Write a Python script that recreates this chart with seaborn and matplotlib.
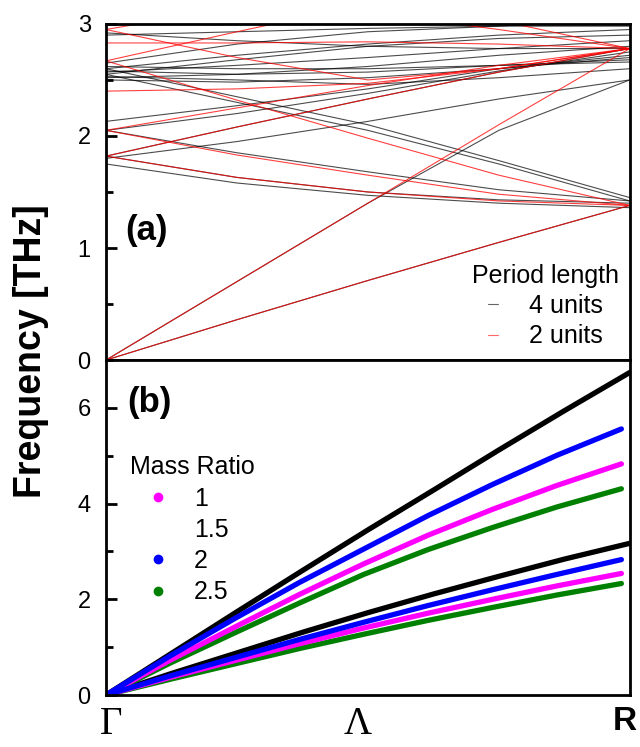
import numpy as np
import pandas as pd
import seaborn as sns
import matplotlib
matplotlib.use("Agg")
import matplotlib.pyplot as plt
from matplotlib.lines import Line2D
from matplotlib.ticker import MultipleLocator
from matplotlib.transforms import ScaledTranslation

# ---------------- (a) folded dispersion: frequency [THz] along Γ -> R ----------------
k_path = [0.0, 0.25, 0.5, 0.75, 1.0]

bands_4units = [
    [0.00, 0.70, 1.40, 2.05, 2.50],
    [0.00, 0.36, 0.71, 1.05, 1.38],
    [1.75, 1.58, 1.47, 1.40, 1.36],
    [1.82, 1.63, 1.50, 1.43, 1.40],
    [1.80, 1.95, 2.13, 2.33, 2.50],
    [1.82, 2.08, 2.33, 2.57, 2.78],
    [2.05, 1.85, 1.68, 1.52, 1.42],
    [2.05, 2.20, 2.38, 2.58, 2.75],
    [2.13, 2.27, 2.42, 2.60, 2.72],
    [2.55, 2.30, 2.05, 1.75, 1.42],
    [2.60, 2.35, 2.10, 1.78, 1.45],
    [2.50, 2.48, 2.52, 2.60, 2.70],
    [2.52, 2.55, 2.62, 2.72, 2.80],
    [2.57, 2.63, 2.70, 2.78, 2.85],
    [2.60, 2.72, 2.82, 2.90, 2.95],
    [2.65, 2.82, 2.93, 2.98, 3.05],
    [2.90, 2.93, 2.96, 2.98, 2.98],
    [2.58, 2.55, 2.57, 2.63, 2.68],
    [2.62, 2.60, 2.60, 2.63, 2.66],
    [2.55, 2.68, 2.80, 2.87, 2.90],
    [2.92, 2.85, 2.80, 2.78, 2.78],
    [2.53, 2.50, 2.46, 2.52, 2.60],
]

bands_2units = [
    [0.00, 0.70, 1.40, 2.10, 2.78],
    [0.00, 0.36, 0.71, 1.05, 1.38],
    [1.82, 1.63, 1.50, 1.42, 1.38],
    [1.82, 2.08, 2.33, 2.57, 2.78],
    [2.05, 1.83, 1.65, 1.48, 1.38],
    [2.05, 2.25, 2.45, 2.63, 2.78],
    [2.67, 2.32, 1.98, 1.65, 1.38],
    [2.67, 2.93, 3.18, 3.40, 3.60],
    [2.95, 2.70, 2.50, 2.60, 2.78],
    [2.95, 3.15, 3.35, 3.50, 3.60],
    [3.60, 3.45, 3.30, 3.03, 2.78],
    [3.40, 3.25, 3.10, 2.95, 2.78],
    [2.40, 2.42, 2.47, 2.60, 2.78],
    [2.83, 2.83, 2.84, 2.82, 2.78],
]

# ---------------- (b) acoustic branches for different mass ratios ----------------
mass_ratios = ["1", "1.5", "2", "2.5"]
k_black = [0.0, 0.125, 0.25, 0.375, 0.5, 0.625, 0.75, 0.875, 1.0]
k_color = [0.0, 0.123, 0.246, 0.369, 0.492, 0.615, 0.738, 0.861, 0.984]

upper_r1 = [0.0, 0.73, 1.42, 2.10, 2.74, 3.34, 3.88, 4.38, 4.83]
lower_r1 = [0.0, 0.37, 0.72, 1.07, 1.40, 1.71, 2.00, 2.28, 2.54]
upper_r15 = [0.0, 0.87, 1.74, 2.60, 3.45, 4.28, 5.12, 5.94, 6.74]
lower_r15 = [0.0, 0.45, 0.88, 1.31, 1.72, 2.11, 2.48, 2.84, 3.17]
upper_r2 = [0.0, 0.82, 1.60, 2.35, 3.05, 3.75, 4.40, 5.01, 5.56]
lower_r2 = [0.0, 0.40, 0.78, 1.16, 1.52, 1.87, 2.20, 2.52, 2.83]
upper_r25 = [0.0, 0.67, 1.30, 1.92, 2.52, 3.04, 3.50, 3.93, 4.31]
lower_r25 = [0.0, 0.33, 0.65, 0.97, 1.27, 1.56, 1.83, 2.09, 2.33]

ratio_colors = {"1": "#ff00ff", "1.5": "#000000", "2": "#0000ff", "2.5": "#008000"}

sns.set_theme(style="ticks")
plt.rcParams["font.family"] = ["Liberation Sans", "DejaVu Sans"]
plt.rcParams.update({"text.color": "black", "axes.labelcolor": "black",
                     "xtick.color": "black", "ytick.color": "black"})

fig = plt.figure(figsize=(6.4, 7.47), dpi=100)
ax_a = fig.add_axes([0.1656, 0.518, 0.8184, 0.450])
ax_b = fig.add_axes([0.1656, 0.0696, 0.8184, 0.4484], sharex=ax_a)

# long-form tables for seaborn
rows = []
for i, b in enumerate(bands_4units):
    for k, f in zip(k_path, b):
        rows.append(("4 units", f"p4_{i}", k, f))
for i, b in enumerate(bands_2units):
    for k, f in zip(k_path, b):
        rows.append(("2 units", f"p2_{i}", k, f))
df_a = pd.DataFrame(rows, columns=["period", "band", "k", "freq"])

sns.lineplot(data=df_a[df_a.period == "4 units"], x="k", y="freq", units="band",
             estimator=None, color="black", lw=0.8, alpha=0.7, ax=ax_a, legend=False)
sns.lineplot(data=df_a[df_a.period == "2 units"], x="k", y="freq", units="band",
             estimator=None, color="#ff0000", lw=0.8, alpha=0.75, ax=ax_a, legend=False)

rows = []
branches = {
    "1": (k_color, upper_r1, lower_r1),
    "1.5": (k_black, upper_r15, lower_r15),
    "2": (k_color, upper_r2, lower_r2),
    "2.5": (k_color, upper_r25, lower_r25),
}
for r, (ks, up, lo) in branches.items():
    for k, f in zip(ks, up):
        rows.append((r, r + "_up", k, f))
    for k, f in zip(ks, lo):
        rows.append((r, r + "_lo", k, f))
df_b = pd.DataFrame(rows, columns=["ratio", "branch", "k", "freq"])

for r in ["1.5", "2.5", "1", "2"]:
    sns.lineplot(data=df_b[df_b.ratio == r], x="k", y="freq", units="branch",
                 estimator=None, color=ratio_colors[r], lw=3.8, ax=ax_b,
                 legend=False, solid_capstyle="round")

# axes styling
for ax in (ax_a, ax_b):
    for s in ax.spines.values():
        s.set_linewidth(2.0)
        s.set_color("black")
    ax.set_xlim(0, 1)
    ax.set_xlabel("")
    ax.set_ylabel("")
    ax.tick_params(axis="y", which="major", direction="in", length=8, width=2,
                   labelsize=17, pad=11, colors="black")
    ax.tick_params(axis="y", which="minor", direction="in", length=5, width=2,
                   colors="black")
    ax.tick_params(axis="x", length=0, colors="black")

ax_a.set_ylim(0, 3)
ax_a.yaxis.set_major_locator(MultipleLocator(1))
ax_a.yaxis.set_minor_locator(MultipleLocator(0.5))
ax_a.tick_params(axis="x", labelbottom=False)

ax_b.set_ylim(0, 7)
ax_b.yaxis.set_major_locator(MultipleLocator(2))
ax_b.yaxis.set_minor_locator(MultipleLocator(1))
ax_b.set_yticks([0, 2, 4, 6])

ax_b.set_xticks([0, 0.5, 1])
ax_b.set_xticklabels(["Γ", "Λ", "R"])
ax_b.tick_params(axis="x", pad=8)
xt = ax_b.get_xticklabels()
shifts = [0.05, -0.10, -0.05]
for lab, dx in zip(xt, shifts):
    lab.set_transform(lab.get_transform() + ScaledTranslation(dx, 0, fig.dpi_scale_trans))
for lab in xt[:2]:
    lab.set_fontfamily(["Liberation Serif", "DejaVu Serif"])
    lab.set_fontsize(28)
xt[2].set_fontfamily(["Liberation Sans", "DejaVu Sans"])
xt[2].set_fontweight("bold")
xt[2].set_fontsize(24)

ax_a.text(0.036, 0.385, "(a)", transform=ax_a.transAxes, fontsize=25,
          fontweight="bold", va="center", ha="left")
ax_b.text(0.040, 0.872, "(b)", transform=ax_b.transAxes, fontsize=25,
          fontweight="bold", va="center", ha="left")

fig.text(0.049, 0.53, "Frequency [THz]", rotation=90, fontsize=27,
         fontweight="bold", va="center", ha="center")

# legends
h_a = [Line2D([], [], color="black", lw=0.8, alpha=0.6),
       Line2D([], [], color="#ff0000", lw=0.8, alpha=0.6)]
leg_a = ax_a.legend(h_a, ["4 units", "2 units"], title="Period length",
                    loc="lower right", bbox_to_anchor=(1.018, -0.025), frameon=False,
                    fontsize=18, title_fontsize=18, handlelength=0.4,
                    handletextpad=1.25, labelspacing=0.25, borderpad=0.3)

h_b = []
for r in mass_ratios:
    if r == "1.5":
        h_b.append(Line2D([], [], linestyle="none"))
    else:
        h_b.append(Line2D([], [], linestyle="none", marker="o", markersize=6,
                          color=ratio_colors[r]))
leg_b = ax_b.legend(h_b, mass_ratios, title="Mass Ratio", loc="upper left",
                    bbox_to_anchor=(0.008, 0.775), frameon=False, fontsize=18,
                    title_fontsize=18, handlelength=2.2, handletextpad=0.35,
                    labelspacing=0.29, alignment="left", borderpad=0.3)

fig.savefig("out.png", dpi=100)
